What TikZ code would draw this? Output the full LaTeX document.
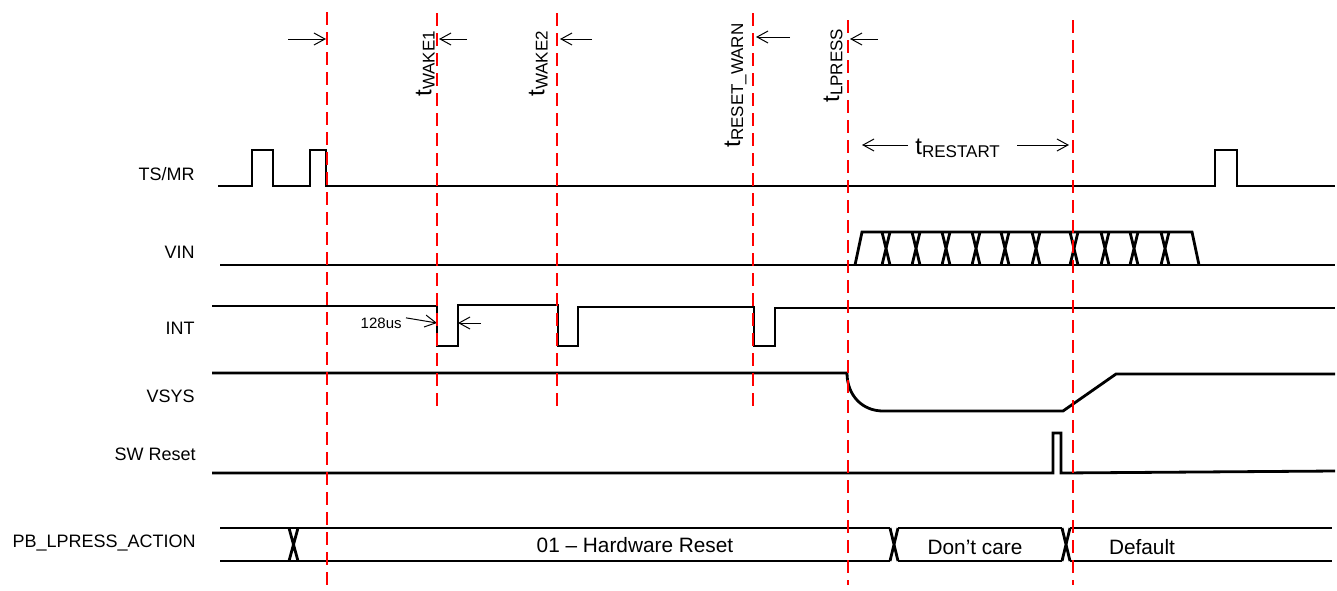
\documentclass[tikz,border=0pt]{standalone}
\usepackage{fontspec}
\setmainfont{Liberation Sans}
\usepackage{tikz}
\usetikzlibrary{arrows.meta, positioning}
\newcommand{\tsub}[1]{{\fontsize{12}{14}\selectfont t}\raisebox{-1.6pt}{\fontsize{8.5}{10}\selectfont #1}}

\begin{document}
\begin{tikzpicture}[x=0.5pt, y=-0.5pt,
  sig/.style={line width=1.4pt, line join=miter},
  edgeline/.style={red, line width=1pt, dash pattern=on 6.5pt off 3.5pt},
  dim/.style={line width=0.5pt, -{Straight Barb[length=5.5pt, width=6pt]}},
  lbl/.style={font=\fontsize{9}{11}\selectfont, anchor=base east, inner sep=0pt},
  bus/.style={font=\fontsize{10.4}{12}\selectfont, inner sep=0pt},
  tlbl/.style={inner sep=0pt, rotate=90, anchor=south west}]
\useasboundingbox (0,0) rectangle (1337,590);
\node[lbl] (tsmr) at (195,180) {TS/MR};
\node[lbl] (vin) at (195,258) {VIN};
\node[lbl] (int) at (195,334) {INT};
\node[lbl] (vsys) at (195,402) {VSYS};
\node[lbl] (swr) at (196,460) {SW Reset};
\node[lbl] (pbl) at (196,547) {PB\_LPRESS\_ACTION};
\draw[sig] (218,186) -| (252,150) -| (273,186) -| (310,150) -| (326,186) -| (1215,150) -| (1237,186) -- (1335,186);
\draw[sig] (220,265) -- (1335,265);
\draw[sig] (855,265) -- (862,232) -- (1192,232) -- (1199,265);
\foreach \c in {886,916,946,976,1005,1036,1074,1105,1134,1165}
  \draw[sig] (\c-4,232) -- (\c+4,265) (\c+4,232) -- (\c-4,265);
\draw[sig] (212,306) -| (437,346) -| (458,305) -| (558,346) -| (578,307) -| (754,346) -| (775,308) -- (1335,308);
\draw[sig] (212,373) -- (847,373) .. controls (847,395) and (862,411) .. (883,411) -- (1063,411) -- (1116,374) -- (1335,374);
\draw[sig] (212,473) -| (1053,433) -| (1061,473) -- (1335,471);
\draw[sig] (220,528) -- (890,528) (220,561) -- (890,561);
\draw[sig] (289,528) -- (298,561) (298,528) -- (289,561);
\draw[sig] (890,528) -- (898,561) (898,528) -- (890,561);
\draw[sig] (898,528) -- (1062,528) (898,561) -- (1062,561);
\draw[sig] (1062,528) -- (1070,561) (1070,528) -- (1062,561);
\draw[sig] (1070,528) -- (1332,528) (1070,561) -- (1332,561);
\node[bus] (hwr) at (635,545) {01 \textendash{} Hardware Reset};
\node[bus] (dcare) at (975,547) {Don’t care};
\node[bus] (dflt) at (1142,547) {Default};
\node[inner sep=0pt, anchor=base east, font=\fontsize{7.5}{9}\selectfont] (us) at (402,328) {128us};
\coordinate (m1) at (327,39);
\coordinate (m2) at (437,39);
\coordinate (m3) at (557,39);
\coordinate (m4) at (753,37);
\coordinate (m5) at (848,39);
\coordinate (m6) at (1073,145);
\coordinate (n1) at (437,323);
\coordinate (n2) at (458,323);
\node[tlbl] (twake1) at (435,97) {\tsub{WAKE1}};
\node[tlbl] (twake2) at (548,97) {\tsub{WAKE2}};
\node[tlbl] (twarn) at (747,148) {\tsub{RESET\_WARN}};
\node[tlbl] (tlp) at (843,103) {\tsub{LPRESS}};
\node[inner sep=0pt, anchor=base west] (trst) at (915,154) {\tsub{RESTART}};
\draw[dim] (m1) ++(-39,0) -- ++(38,0);
\draw[dim] (m2) ++(30,0) -- ++(-28,0);
\draw[dim] (m3) ++(35,0) -- ++(-32,0);
\draw[dim] (m4) ++(37,0) -- ++(-34,0);
\draw[dim] (m5) ++(30,0) -- ++(-28,0);
\draw[dim] (trst.west |- m6) ++(-7,0) -- (862,145);
\draw[dim] (trst.east |- m6) ++(17,0) -- ([xshift=-2pt]m6);
\draw[dim] (us.east) ++(4,-5) -- (n1);
\draw[dim] (n2) ++(23,0) -- (n2);
\foreach \x/\a/\b in {327/12/590, 437/13/408, 557/13/408, 753/13/408, 848/20/585, 1073/20/585}
  \draw[edgeline] (\x,\a) -- (\x,\b);
\end{tikzpicture}
\end{document}
